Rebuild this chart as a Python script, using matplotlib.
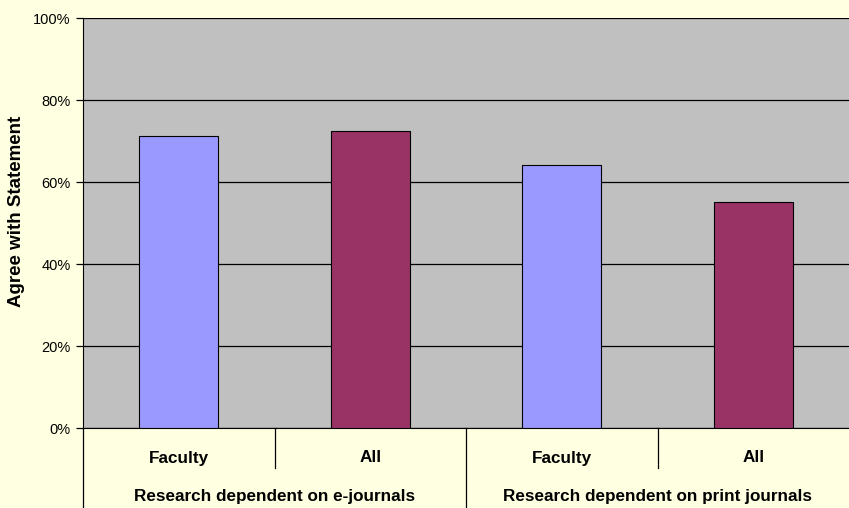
import matplotlib
matplotlib.use("Agg")
import matplotlib.pyplot as plt
from matplotlib.ticker import PercentFormatter

plt.rcParams['font.family'] = ['Liberation Sans', 'DejaVu Sans']

groups = ["Research dependent on e-journals", "Research dependent on print journals"]
subcats = ["Faculty", "All", "Faculty", "All"]
values = [71.2, 72.4, 64.1, 55.1]
bar_colors = ["#9999FF", "#993366", "#9999FF", "#993366"]
yticks = [0, 20, 40, 60, 80, 100]

fig = plt.figure(figsize=(8.49, 5.08), dpi=100)
fig.patch.set_facecolor("#FFFFE1")
ax = fig.add_axes([83/849, 1-428/508, 1-83/849, 410/508])
ax.set_facecolor("#C0C0C0")

x = list(range(len(values)))
ax.bar(x, values, width=0.41, color=bar_colors, edgecolor="#000000", linewidth=0.8, zorder=3)
ax.set_xlim(-0.5, len(values)-0.5)
ax.set_ylim(0, 100)
ax.set_yticks(yticks)
ax.yaxis.set_major_formatter(PercentFormatter(decimals=0))
ax.grid(axis='y', color='#000000', linewidth=0.9, zorder=1)
ax.tick_params(axis='y', direction='out', length=5, width=0.9, labelsize=10.5, pad=4)
ax.set_xticks([])
for s in ['top', 'right']:
    ax.spines[s].set_visible(False)
ax.spines['left'].set_color('#000000')
ax.spines['bottom'].set_color('#000000')
fig.text(17/849, 1-211/508, "Agree with Statement", rotation=90, ha='center', va='center',
         fontsize=13.5, fontweight='bold')

trans = ax.get_xaxis_transform()
# sub-category labels
for i, lab in enumerate(subcats):
    ax.text(i, -30/410, lab, transform=trans, ha='center', va='center',
            fontsize=12.3, fontweight='bold', clip_on=False)
# group labels
for g, lab in enumerate(groups):
    ax.text(2*g + 0.5, -68/410, lab, transform=trans, ha='center', va='center',
            fontsize=12.3, fontweight='bold', clip_on=False)
# dividers
for xd, ylow in [(-0.5, -80/410), (0.5, -40/410), (1.5, -80/410), (2.5, -40/410)]:
    ax.plot([xd, xd], [0, ylow], transform=trans, color='#000000', linewidth=0.9, clip_on=False)

fig.savefig("out.png", dpi=100, facecolor=fig.get_facecolor())
